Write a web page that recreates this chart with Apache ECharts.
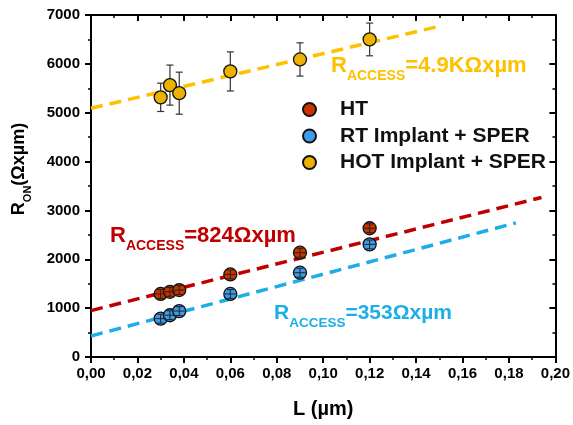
<!DOCTYPE html>
<html><head><meta charset="utf-8">
<script src="https://cdn.jsdelivr.net/npm/echarts@6/dist/echarts.min.js"></script>
<style>html,body{margin:0;padding:0;background:#fff}#c{width:573px;height:425px}</style>
</head><body><div id="c"></div>
<script>
// ---- data ----
var seriesNames = ['HT', 'RT Implant + SPER', 'HOT Implant + SPER'];
var HT_L   = [0.030, 0.034, 0.038, 0.060, 0.090, 0.120];
var HT_R   = [1290, 1335, 1370, 1690, 2135, 2635];
var HT_ERR = [90, 90, 90, 90, 90, 90];
var RT_L   = [0.030, 0.034, 0.038, 0.060, 0.090, 0.120];
var RT_R   = [785, 855, 940, 1290, 1725, 2305];
var RT_ERR = [90, 90, 90, 90, 90, 90];
var HOT_L   = [0.030, 0.034, 0.038, 0.060, 0.090, 0.120];
var HOT_R   = [5315, 5565, 5400, 5845, 6090, 6500];
var HOT_ERR = [290, 410, 430, 400, 340, 335];
// fitted lines: [L, R] endpoints
var HT_FIT  = [[0, 950], [0.194, 3265]];
var RT_FIT  = [[0, 430], [0.183, 2745]];
var HOT_FIT = [[0, 5090], [0.1505, 6775]];
var xTicks = {min: 0, max: 0.20, interval: 0.02};
var yTicks = {min: 0, max: 7000, interval: 1000};
var labels = [
  {main: 'R', sub: 'ACCESS', rest: '=4.9KΩxµm', color: '#FFC000', size: 22, subSize: 14},
  {main: 'R', sub: 'ACCESS', rest: '=824Ωxµm', color: '#C00000', size: 22, subSize: 14},
  {main: 'R', sub: 'ACCESS', rest: '=353Ωxµm', color: '#1DAEE8', size: 21, subSize: 13.5}
];

function zip(a, b, c) { return a.map(function (v, i) { return c ? [v, b[i], c[i]] : [v, b[i]]; }); }

var FONT = 'Liberation Sans, Arial, sans-serif';
var colors = {
  HT: {fill: '#C93300', line: '#C00000'},
  RT: {fill: '#3D9BEA', line: '#1DAEE8'},
  HOT: {fill: '#EBB300', line: '#FFC000'}
};

function errRender(capHalf, mid, color, lw) {
  return function (params, api) {
    var x = api.value(0), y = api.value(1), e = api.value(2);
    var t = api.coord([x, y + e]), b = api.coord([x, y - e]), c = api.coord([x, y]);
    var st = {stroke: color, lineWidth: lw, fill: null};
    var ch = [
      {type: 'line', shape: {x1: t[0], y1: t[1], x2: b[0], y2: b[1]}, style: st},
      {type: 'line', shape: {x1: t[0] - capHalf, y1: t[1], x2: t[0] + capHalf, y2: t[1]}, style: st},
      {type: 'line', shape: {x1: b[0] - capHalf, y1: b[1], x2: b[0] + capHalf, y2: b[1]}, style: st}
    ];
    if (mid) ch.push({type: 'line', shape: {x1: c[0] - 5.5, y1: c[1], x2: c[0] + 5.5, y2: c[1]}, style: st});
    return {type: 'group', children: ch};
  };
}

function richLabel(o, left, top) {
  return {
    type: 'text', left: left, top: top, z: 100,
    style: {
      text: '{m|' + o.main + '}{s|' + o.sub + '}{m|' + o.rest + '}',
      rich: {
        m: {fontSize: o.size, fontWeight: 'bold', fontFamily: FONT, fill: o.color, lineHeight: o.size + 2, verticalAlign: 'top'},
        s: {fontSize: o.subSize, fontWeight: 'bold', fontFamily: FONT, fill: o.color, lineHeight: o.subSize, verticalAlign: 'top', padding: [Math.round(o.size * 0.62), 0, 0, 0]}
      }
    }
  };
}

var axisLineStyle = {color: '#000', width: 2};
var majorTick = {color: '#000', width: 2};
var minorTickStyle = {color: '#000', width: 1.5};
var chart = echarts.init(document.getElementById('c'), null, {renderer: 'canvas'});
var option = {
  animation: false,
  backgroundColor: '#fff',
  grid: {left: 91, right: 16, top: 15, bottom: 68},
  legend: {
    orient: 'vertical', left: 297, top: 94, itemGap: 5.5,
    itemWidth: 13, itemHeight: 13, icon: 'circle',
    data: seriesNames,
    textStyle: {fontSize: 21, fontWeight: 'bold', fontFamily: FONT, color: '#111', padding: [0, 0, 0, 19]}
  },
  xAxis: [{
    type: 'value', min: xTicks.min, max: xTicks.max, interval: xTicks.interval,
    name: 'L (µm)', nameLocation: 'middle', nameGap: 42,
    nameTextStyle: {fontSize: 20, fontWeight: 'bold', fontFamily: FONT, color: '#000'},
    axisLine: {show: true, onZero: false, lineStyle: axisLineStyle},
    axisTick: {show: true, inside: false, length: 6, lineStyle: majorTick},
    minorTick: {show: true, splitNumber: 2, length: 3, lineStyle: minorTickStyle},
    splitLine: {show: false},
    axisLabel: {margin: 9, fontSize: 15, fontWeight: 'bold', fontFamily: FONT, color: '#000',
      formatter: function (v) { return v.toFixed(2).replace('.', ','); }}
  }, {
    type: 'value', position: 'top', min: xTicks.min, max: xTicks.max, interval: xTicks.interval,
    axisLine: {show: true, onZero: false, lineStyle: axisLineStyle},
    axisTick: {show: true, inside: true, length: 6, lineStyle: majorTick},
    minorTick: {show: true, splitNumber: 2, length: 3, lineStyle: minorTickStyle},
    splitLine: {show: false}, axisLabel: {show: false}
  }],
  yAxis: [{
    type: 'value', min: yTicks.min, max: yTicks.max, interval: yTicks.interval,
    name: '{m|R}{s|ON}{m|(Ωxµm)}', nameLocation: 'middle', nameGap: 61, nameRotate: 90,
    nameTextStyle: {
      padding: [0, 0, 0, 34],
      rich: {
        m: {fontSize: 18, fontWeight: 'bold', fontFamily: FONT, color: '#000', lineHeight: 20, verticalAlign: 'top'},
        s: {fontSize: 11, fontWeight: 'bold', fontFamily: FONT, color: '#000', lineHeight: 11, verticalAlign: 'top', padding: [12, 0, 0, 0]}
      }
    },
    axisLine: {show: true, onZero: false, lineStyle: axisLineStyle},
    axisTick: {show: true, inside: false, length: 6, lineStyle: majorTick},
    minorTick: {show: true, splitNumber: 2, length: 3, lineStyle: minorTickStyle},
    splitLine: {show: false},
    axisLabel: {margin: 11, fontSize: 15, fontWeight: 'bold', fontFamily: FONT, color: '#000',
      formatter: function (v) { return String(v); }}
  }, {
    type: 'value', position: 'right', min: yTicks.min, max: yTicks.max, interval: yTicks.interval,
    axisLine: {show: true, onZero: false, lineStyle: axisLineStyle},
    axisTick: {show: true, inside: true, length: 6, lineStyle: majorTick},
    minorTick: {show: true, splitNumber: 2, length: 3, lineStyle: minorTickStyle},
    splitLine: {show: false}, axisLabel: {show: false}
  }],
  series: [
    {type: 'line', data: HT_FIT, symbol: 'none', silent: true, z: 2,
      lineStyle: {color: colors.HT.line, width: 3.5, type: [12, 7]}},
    {type: 'line', data: RT_FIT, symbol: 'none', silent: true, z: 2,
      lineStyle: {color: colors.RT.line, width: 3.5, type: [12, 7]}},
    {type: 'line', data: HOT_FIT, symbol: 'none', silent: true, z: 2,
      lineStyle: {color: colors.HOT.line, width: 3.5, type: [12, 7]}},
    {type: 'custom', data: zip(HOT_L, HOT_R, HOT_ERR), renderItem: errRender(3.5, false, '#333', 1.2), z: 3, silent: true},
    {name: seriesNames[0], type: 'scatter', data: zip(HT_L, HT_R), symbol: 'circle', symbolSize: 13, z: 4,
      itemStyle: {color: colors.HT.fill, borderColor: '#111', borderWidth: 1.3, opacity: 1}},
    {name: seriesNames[1], type: 'scatter', data: zip(RT_L, RT_R), symbol: 'circle', symbolSize: 13, z: 4,
      itemStyle: {color: colors.RT.fill, borderColor: '#111', borderWidth: 1.3, opacity: 1}},
    {name: seriesNames[2], type: 'scatter', data: zip(HOT_L, HOT_R), symbol: 'circle', symbolSize: 13, z: 4,
      itemStyle: {color: colors.HOT.fill, borderColor: '#111', borderWidth: 1.3, opacity: 1}},
    {type: 'custom', data: zip(HT_L, HT_R, HT_ERR), renderItem: errRender(3.5, true, '#222', 1), z: 5, silent: true},
    {type: 'custom', data: zip(RT_L, RT_R, RT_ERR), renderItem: errRender(3.5, true, '#222', 1), z: 5, silent: true}
  ],
  graphic: [
    richLabel(labels[0], 331, 55),
    richLabel(labels[1], 110, 225),
    richLabel(labels[2], 274, 303)
  ]
};
chart.setOption(option);
</script></body></html>
